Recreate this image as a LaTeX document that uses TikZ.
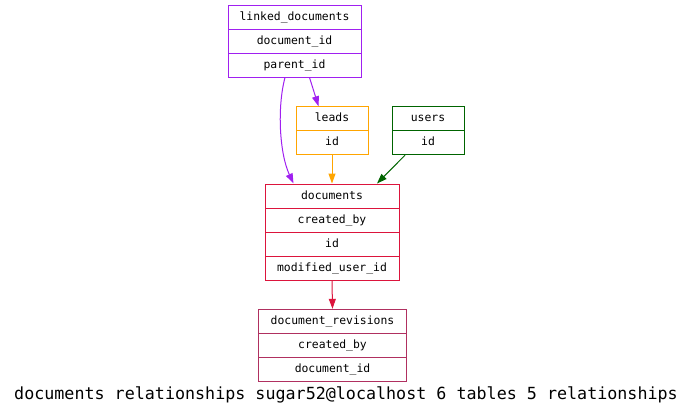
\documentclass[tikz,border=0pt]{standalone}
\usepackage{fontspec}
\setmonofont{DejaVu Sans Mono}
\usetikzlibrary{arrows.meta}
\definecolor{cpurple}{HTML}{A020F0}
\definecolor{corange}{HTML}{FFA500}
\definecolor{cgreen}{HTML}{006400}
\definecolor{ccrimson}{HTML}{DC143C}
\definecolor{cmaroon}{HTML}{B03060}
\tikzset{
  cell/.style={draw, line width=1bp, minimum height=24bp, inner sep=0pt, text=black,
    text height=8.5bp, text depth=2.5bp,
    font=\ttfamily\fontsize{11.4bp}{13bp}\selectfont},
  rel/.style={line width=1bp, -{Triangle[length=10bp,width=7bp]}},
}
\begin{document}
\begin{tikzpicture}[x=1bp,y=-1bp]
\useasboundingbox (0,0) rectangle (692,416);
% linked_documents
\node[cell, draw=cpurple, minimum width=133bp] (ld1) at (294.5,17) {linked\_documents};
\node[cell, draw=cpurple, minimum width=133bp] (ld2) at (294.5,41) {document\_id};
\node[cell, draw=cpurple, minimum width=133bp] (ld3) at (294.5,65) {parent\_id};
% leads
\node[cell, draw=corange, minimum width=72bp] (le1) at (332,118.7) {leads};
\node[cell, draw=corange, minimum width=72bp] (le2) at (332,142.7) {id};
% users
\node[cell, draw=cgreen, minimum width=72bp] (us1) at (428,118.7) {users};
\node[cell, draw=cgreen, minimum width=72bp] (us2) at (428,142.7) {id};
% documents
\node[cell, draw=ccrimson, minimum width=134bp] (do1) at (332,196) {documents};
\node[cell, draw=ccrimson, minimum width=134bp] (do2) at (332,220) {created\_by};
\node[cell, draw=ccrimson, minimum width=134bp] (do3) at (332,244) {id};
\node[cell, draw=ccrimson, minimum width=134bp] (do4) at (332,268) {modified\_user\_id};
% document_revisions
\node[cell, draw=cmaroon, minimum width=148bp] (dr1) at (332.5,321.3) {document\_revisions};
\node[cell, draw=cmaroon, minimum width=148bp] (dr2) at (332.5,345.3) {created\_by};
\node[cell, draw=cmaroon, minimum width=148bp] (dr3) at (332.5,369.3) {document\_id};
% edges
\draw[rel, cpurple] ([xshift=-9.5bp]ld3.south) .. controls +(-8,30) and +(-14,-30) .. ([xshift=-38.5bp]do1.north);
\draw[rel, cpurple] ([xshift=15bp]ld3.south) -- ([xshift=-13.5bp]le1.north);
\draw[rel, corange] (le2.south) -- (do1.north);
\draw[rel, cgreen] ([xshift=-23bp]us2.south) -- ([xshift=45bp]do1.north);
\draw[rel, ccrimson] (do4.south) -- (dr1.north);
% title
\node[font=\ttfamily\fontsize{16.7bp}{19bp}\selectfont, inner sep=0pt] (title) at (346,395) {documents relationships sugar52@localhost 6 tables 5 relationships};
\end{tikzpicture}
\end{document}
